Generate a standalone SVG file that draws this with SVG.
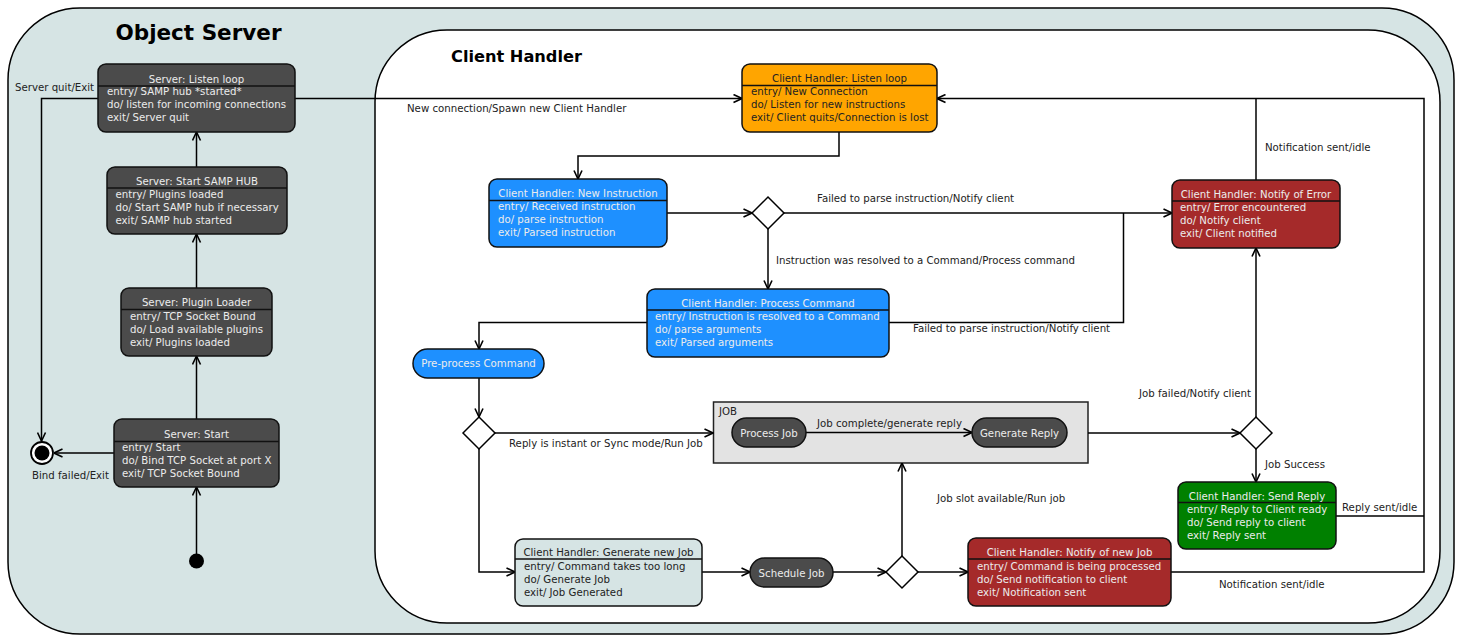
<svg xmlns="http://www.w3.org/2000/svg" width="1458" height="635" viewBox="0 0 1458 635">
<defs>
<marker id="ar" viewBox="0 0 10 10" refX="9.5" refY="5" markerWidth="10" markerHeight="10" markerUnits="userSpaceOnUse" orient="auto">
<path d="M1,1 L9.5,5 L1,9" fill="none" stroke="#000" stroke-width="1.6"/>
</marker>
<style>
text{font-family:"DejaVu Sans","Noto Sans",sans-serif;font-size:10.2px}
.ttl{font-weight:bold}
.lbl{fill:#222}
.lt{fill:#ececec}
.dk{fill:#222}
.box{stroke:#111;stroke-width:1.5}
.sep{stroke:#111;stroke-width:1.5}
.gray{fill:#4b4b4b}
.blue{fill:#1e90ff}
.orange{fill:#ffa500}
.red{fill:#a52a2a}
.green{fill:#008000}
.pale{fill:#d6e4e4}
.dia{fill:#fff;stroke:#000;stroke-width:1.5}
.c{fill:none;stroke:#000;stroke-width:1.5}
.ca{fill:none;stroke:#000;stroke-width:1.5;marker-end:url(#ar)}
.m{text-anchor:middle}
</style>
</defs>
<rect x="0" y="0" width="1458" height="635" fill="#fff"/>
<g id="object-server">
<rect x="8" y="8" width="1446" height="626" rx="72" fill="#d6e4e4" stroke="#000" stroke-width="1.5"/>
<text class="ttl" x="198.5" y="40" style="font-size:21.5px" text-anchor="middle">Object Server</text>
</g>
<g id="client-handler">
<rect x="375" y="30" width="1065" height="593" rx="72" fill="#fff" stroke="#000" stroke-width="1.5"/>
<text class="ttl" x="451" y="62" style="font-size:16.2px">Client Handler</text>
</g>
<g id="job-region">
<rect x="713.5" y="402" width="374.5" height="61" fill="#e3e3e3" stroke="#222" stroke-width="1.5"/>
<text class="dk" x="719" y="415">JOB</text>
</g>

<g id="connectors">
<path class="ca" d="M196.5,554 V487"/>
<path class="ca" d="M196.5,419 V356"/>
<path class="ca" d="M196.5,288 V234"/>
<path class="ca" d="M196.5,167 V132"/>
<path class="ca" d="M114,453 H54"/>
<path class="ca" d="M98,98.5 H41.5 V441"/>
<path class="ca" d="M295,98.5 H742"/>
<path class="ca" d="M839,132 V156 H578 V179"/>
<path class="ca" d="M667,213 H752"/>
<path class="ca" d="M784,213 H1172"/>
<path class="ca" d="M768,229 V289"/>
<path class="c" d="M889,322.5 H1123.5 V213"/>
<path class="ca" d="M647,322.5 H479 V349"/>
<path class="ca" d="M479,378 V417"/>
<path class="ca" d="M495,433 H713"/>
<path class="ca" d="M479,449 V572 H515"/>
<path class="ca" d="M806,432.5 H972"/>
<path class="ca" d="M1088,433 H1240"/>
<path class="ca" d="M1256,417 V248"/>
<path class="ca" d="M1256,449 V482"/>
<path class="ca" d="M702,572 H750"/>
<path class="ca" d="M833,572 H886"/>
<path class="ca" d="M918,572 H968"/>
<path class="ca" d="M902,556 V463"/>
<path class="c" d="M1256,180 V98.5"/>
<path class="ca" d="M1171,572 H1424 V98.5 H937"/>
<path class="c" d="M1336,516 H1424"/>
</g>

<g id="labels">
<text class="lbl" x="15" y="91">Server quit/Exit</text>
<text class="lbl" x="32" y="479">Bind failed/Exit</text>
<text class="lbl" x="407" y="112">New connection/Spawn new Client Handler</text>
<text class="lbl" x="817" y="201.5">Failed to parse instruction/Notify client</text>
<text class="lbl" x="776" y="264">Instruction was resolved to a Command/Process command</text>
<text class="lbl" x="913" y="332">Failed to parse instruction/Notify client</text>
<text class="lbl" x="509" y="447">Reply is instant or Sync mode/Run Job</text>
<text class="lbl" x="817" y="427">Job complete/generate reply</text>
<text class="lbl" x="1139" y="397">Job failed/Notify client</text>
<text class="lbl" x="1265" y="468">Job Success</text>
<text class="lbl" x="937" y="502">Job slot available/Run job</text>
<text class="lbl" x="1342" y="511">Reply sent/idle</text>
<text class="lbl" x="1219" y="588">Notification sent/idle</text>
<text class="lbl" x="1265" y="151">Notification sent/idle</text>
</g>

<g id="initial">
<circle cx="196.5" cy="561" r="7.5" fill="#000"/>
</g>
<g id="final">
<circle cx="42" cy="453" r="11" fill="#fff" stroke="#000" stroke-width="1.8"/>
<circle cx="42" cy="453" r="7.5" fill="#000"/>
</g>

<g id="server-listen-loop">
<rect class="box gray" x="98" y="64" width="197" height="68" rx="8"/>
<line class="sep" x1="98" y1="86" x2="295" y2="86"/>
<text class="lt m" x="196.5" y="82.5">Server: Listen loop</text>
<text class="lt" x="107" y="95">entry/ SAMP hub *started*</text>
<text class="lt" x="107" y="108">do/ listen for incoming connections</text>
<text class="lt" x="107" y="121">exit/ Server quit</text>
</g>
<g id="server-start-samp-hub">
<rect class="box gray" x="107" y="167" width="180" height="67" rx="8"/>
<line class="sep" x1="107" y1="188" x2="287" y2="188"/>
<text class="lt m" x="197" y="185">Server: Start SAMP HUB</text>
<text class="lt" x="115.5" y="197.5">entry/ Plugins loaded</text>
<text class="lt" x="115.5" y="210.5">do/ Start SAMP hub if necessary</text>
<text class="lt" x="115.5" y="223.5">exit/ SAMP hub started</text>
</g>
<g id="server-plugin-loader">
<rect class="box gray" x="121" y="288" width="151" height="68" rx="8"/>
<line class="sep" x1="121" y1="309.5" x2="272" y2="309.5"/>
<text class="lt m" x="196.5" y="306">Server: Plugin Loader</text>
<text class="lt" x="130" y="319.5">entry/ TCP Socket Bound</text>
<text class="lt" x="130" y="332.5">do/ Load available plugins</text>
<text class="lt" x="130" y="345.5">exit/ Plugins loaded</text>
</g>
<g id="server-start">
<rect class="box gray" x="114" y="419" width="165" height="68" rx="8"/>
<line class="sep" x1="114" y1="441.5" x2="279" y2="441.5"/>
<text class="lt m" x="196.5" y="437.5">Server: Start</text>
<text class="lt" x="122" y="450.5">entry/ Start</text>
<text class="lt" x="122" y="463.5">do/ Bind TCP Socket at port X</text>
<text class="lt" x="122" y="476.5">exit/ TCP Socket Bound</text>
</g>

<g id="ch-listen-loop">
<rect class="box orange" x="742" y="64" width="195" height="68" rx="8"/>
<line class="sep" x1="742" y1="85.5" x2="937" y2="85.5"/>
<text class="dk m" x="839.5" y="82">Client Handler: Listen loop</text>
<text class="dk" x="751" y="95">entry/ New Connection</text>
<text class="dk" x="751" y="108">do/ Listen for new instructions</text>
<text class="dk" x="751" y="121">exit/ Client quits/Connection is lost</text>
</g>
<g id="ch-new-instruction">
<rect class="box blue" x="489" y="179" width="178" height="68" rx="8"/>
<line class="sep" x1="489" y1="200.5" x2="667" y2="200.5"/>
<text class="lt m" x="578" y="197">Client Handler: New Instruction</text>
<text class="lt" x="498" y="210">entry/ Received instruction</text>
<text class="lt" x="498" y="223">do/ parse instruction</text>
<text class="lt" x="498" y="236">exit/ Parsed instruction</text>
</g>
<g id="ch-process-command">
<rect class="box blue" x="647" y="289" width="242" height="68" rx="8"/>
<line class="sep" x1="647" y1="310" x2="889" y2="310"/>
<text class="lt m" x="768" y="307">Client Handler: Process Command</text>
<text class="lt" x="655" y="320">entry/ Instruction is resolved to a Command</text>
<text class="lt" x="655" y="333">do/ parse arguments</text>
<text class="lt" x="655" y="346">exit/ Parsed arguments</text>
</g>
<g id="ch-notify-error">
<rect class="box red" x="1172" y="180" width="168" height="68" rx="8"/>
<line class="sep" x1="1172" y1="201" x2="1340" y2="201"/>
<text class="lt m" x="1256" y="198">Client Handler: Notify of Error</text>
<text class="lt" x="1180" y="211">entry/ Error encountered</text>
<text class="lt" x="1180" y="224">do/ Notify client</text>
<text class="lt" x="1180" y="237">exit/ Client notified</text>
</g>
<g id="ch-send-reply">
<rect class="box green" x="1178" y="482" width="158" height="67" rx="8"/>
<line class="sep" x1="1178" y1="502.5" x2="1336" y2="502.5"/>
<text class="lt m" x="1257" y="500">Client Handler: Send Reply</text>
<text class="lt" x="1187" y="513">entry/ Reply to Client ready</text>
<text class="lt" x="1187" y="526">do/ Send reply to client</text>
<text class="lt" x="1187" y="539">exit/ Reply sent</text>
</g>
<g id="ch-notify-new-job">
<rect class="box red" x="968" y="538" width="203" height="68" rx="8"/>
<line class="sep" x1="968" y1="559" x2="1171" y2="559"/>
<text class="lt m" x="1069.5" y="556">Client Handler: Notify of new Job</text>
<text class="lt" x="977" y="569.5">entry/ Command is being processed</text>
<text class="lt" x="977" y="582.5">do/ Send notification to client</text>
<text class="lt" x="977" y="595.5">exit/ Notification sent</text>
</g>
<g id="ch-generate-new-job">
<rect class="box pale" x="515" y="539" width="187" height="67" rx="8"/>
<line class="sep" x1="515" y1="559" x2="702" y2="559"/>
<text class="dk m" x="608.5" y="556">Client Handler: Generate new Job</text>
<text class="dk" x="524" y="569.5">entry/ Command takes too long</text>
<text class="dk" x="524" y="582.5">do/ Generate Job</text>
<text class="dk" x="524" y="595.5">exit/ Job Generated</text>
</g>

<g id="pre-process-command">
<rect class="box blue" x="413" y="349" width="131" height="29" rx="14.5"/>
<text class="lt m" x="478.5" y="367">Pre-process Command</text>
</g>
<g id="process-job">
<rect class="box gray" x="732" y="418" width="74" height="29" rx="14.5"/>
<text class="lt m" x="769" y="436.5">Process Job</text>
</g>
<g id="generate-reply">
<rect class="box gray" x="972" y="418" width="95" height="29" rx="14.5"/>
<text class="lt m" x="1019.5" y="436.5">Generate Reply</text>
</g>
<g id="schedule-job">
<rect class="box gray" x="750" y="558" width="83" height="29" rx="14.5"/>
<text class="lt m" x="791.5" y="576.5">Schedule Job</text>
</g>

<g id="decision-1"><path class="dia" d="M752,213 L768,197 L784,213 L768,229 Z"/></g>
<g id="decision-2"><path class="dia" d="M463,433 L479,417 L495,433 L479,449 Z"/></g>
<g id="decision-3"><path class="dia" d="M1240,433 L1256,417 L1272,433 L1256,449 Z"/></g>
<g id="decision-4"><path class="dia" d="M886,572 L902,556 L918,572 L902,588 Z"/></g>
</svg>
